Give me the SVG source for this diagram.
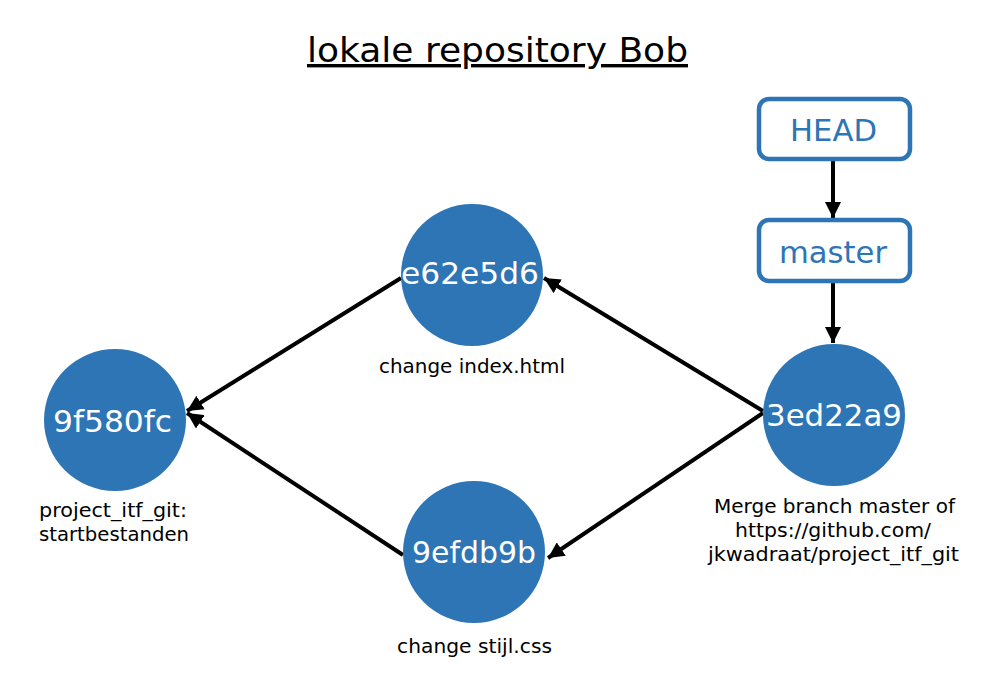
<svg xmlns="http://www.w3.org/2000/svg" width="994" height="684" viewBox="0 0 994 684">
<style>
.commit{fill:#2E75B6}
.ctext{font-family:"DejaVu Sans",sans-serif;font-size:30px;fill:#fff;text-anchor:middle}
.label{font-family:"DejaVu Sans",sans-serif;font-size:19px;fill:#000}
.ref rect{fill:#fff;stroke:#2E75B6;stroke-width:4.5}
.ref text{font-family:"DejaVu Sans",sans-serif;font-size:30px;fill:#2E75B6;text-anchor:middle}
.edge{stroke:#000;stroke-width:4;fill:none;marker-end:url(#ah)}
</style>
<defs>
<marker id="ah" markerUnits="userSpaceOnUse" markerWidth="18" markerHeight="16" refX="16" refY="8" orient="auto">
<path d="M0,0 L16,8 L0,16 Z" fill="#000"/>
</marker>
</defs>
<rect width="994" height="684" fill="#fff"/>
<text x="497.5" y="62" font-family="DejaVu Sans, sans-serif" font-size="34" text-anchor="middle" text-decoration="underline" fill="#000" textLength="381" lengthAdjust="spacingAndGlyphs">lokale repository Bob</text>
<g id="connectors">
<line class="edge" x1="833" y1="161" x2="833" y2="218"/>
<line class="edge" x1="833" y1="283" x2="833" y2="343"/>
<line class="edge" x1="763" y1="411" x2="544" y2="278"/>
<line class="edge" x1="763" y1="413" x2="548" y2="558"/>
<line class="edge" x1="401" y1="278" x2="187" y2="411"/>
<line class="edge" x1="403" y1="555" x2="187" y2="413"/>
</g>
<g id="HEAD" class="ref">
<rect x="759" y="99" width="151" height="60" rx="10"/>
<text x="833.5" y="141" textLength="87" lengthAdjust="spacingAndGlyphs">HEAD</text>
</g>
<g id="master" class="ref">
<rect x="759" y="220" width="151" height="61" rx="10"/>
<text x="833" y="263" textLength="108" lengthAdjust="spacingAndGlyphs">master</text>
</g>
<g id="c9f580fc">
<circle class="commit" cx="115" cy="420" r="71"/>
<text class="ctext" x="112.5" y="432" textLength="119" lengthAdjust="spacingAndGlyphs">9f580fc</text>
<text class="label" x="39" y="517" textLength="148" lengthAdjust="spacingAndGlyphs">project_itf_git:</text>
<text class="label" x="39" y="541" textLength="150" lengthAdjust="spacingAndGlyphs">startbestanden</text>
</g>
<g id="ce62e5d6">
<circle class="commit" cx="472" cy="275" r="71"/>
<text class="ctext" x="470" y="284" textLength="138" lengthAdjust="spacingAndGlyphs">e62e5d6</text>
<text class="label" x="472" y="373" text-anchor="middle" textLength="186" lengthAdjust="spacingAndGlyphs">change index.html</text>
</g>
<g id="c9efdb9b">
<circle class="commit" cx="474" cy="552" r="71"/>
<text class="ctext" x="474" y="563" textLength="124" lengthAdjust="spacingAndGlyphs">9efdb9b</text>
<text class="label" x="474.5" y="653" text-anchor="middle" textLength="155" lengthAdjust="spacingAndGlyphs">change stijl.css</text>
</g>
<g id="c3ed22a9">
<circle class="commit" cx="834" cy="415" r="71"/>
<text class="ctext" x="834" y="426" textLength="136" lengthAdjust="spacingAndGlyphs">3ed22a9</text>
<text class="label" x="834.5" y="513" text-anchor="middle" textLength="241" lengthAdjust="spacingAndGlyphs">Merge branch master of</text>
<text class="label" x="833" y="537" text-anchor="middle" textLength="196" lengthAdjust="spacingAndGlyphs">https://github.com/</text>
<text class="label" x="833.5" y="561" text-anchor="middle" textLength="251" lengthAdjust="spacingAndGlyphs">jkwadraat/project_itf_git</text>
</g>
</svg>
